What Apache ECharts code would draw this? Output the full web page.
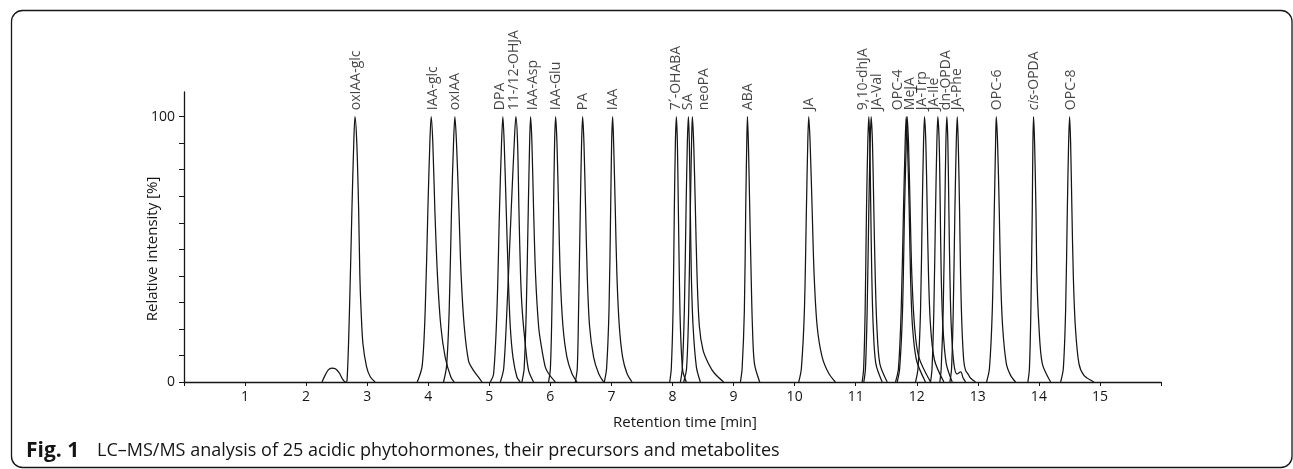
<!DOCTYPE html>
<html><head><meta charset="utf-8">
<script src="https://cdn.jsdelivr.net/npm/echarts@6/dist/echarts.min.js"></script>
<style>html,body{margin:0;padding:0;background:#fff}#c{width:1293px;height:469px}</style>
</head><body><div id="c"></div>
<script>
// ---- data (retention time [min], relative intensity [%]) ----
const compounds = ['oxIAA-glc','IAA-glc','oxIAA','DPA','11-/12-OHJA','IAA-Asp','IAA-Glu','PA','IAA','7´-OHABA','SA','neoPA','ABA','JA','9,10-dhJA','JA-Val','OPC-4','MeJA','JA-Trp','JA-Ile','dn-OPDA','JA-Phe','OPC-6','cis-OPDA','OPC-8'];
const oxIAA_glc = [[2.26,0],[2.31,2.5],[2.36,4.5],[2.42,5.2],[2.48,5.0],[2.54,3.5],[2.60,1.0],[2.64,0],[2.67,0.5],[2.71,27],[2.75,65],[2.78,90],[2.80,100],[2.83,90],[2.86,65],[2.88,40],[2.90,27],[2.93,14.5],[2.99,5.7],[3.05,2],[3.13,0]];
const IAA_glc = [[3.82,0],[3.90,6],[3.95,27],[3.994,65],[4.026,90],[4.048,100],[4.075,90],[4.108,65],[4.151,40],[4.206,21],[4.277,9.4],[4.37,1.9],[4.425,0]];
const oxIAA = [[4.25,0],[4.30,6],[4.343,27],[4.381,65],[4.414,90],[4.436,100],[4.463,90],[4.502,65],[4.539,40],[4.589,21],[4.66,8],[4.74,4.4],[4.82,1.9],[4.88,0]];
const DPA = [[5.015,0],[5.07,3],[5.125,27],[5.167,65],[5.20,90],[5.222,100],[5.244,90],[5.277,65],[5.31,40],[5.343,21],[5.387,9.4],[5.452,1.9],[5.506,0]];
const OHJA = [[5.18,0],[5.235,5],[5.288,27],[5.359,65],[5.408,90],[5.435,100],[5.463,90],[5.485,65],[5.512,40],[5.539,27],[5.588,14.5],[5.643,4.4],[5.725,0]];
const IAA_Asp = [[5.534,0],[5.57,5],[5.605,27],[5.638,65],[5.66,90],[5.676,100],[5.698,90],[5.725,65],[5.758,40],[5.807,21],[5.845,14.5],[5.916,5.7],[5.97,3.2],[6.08,0]];
const IAA_Glu = [[5.97,0],[6.00,5],[6.025,27],[6.052,65],[6.069,90],[6.086,100],[6.108,90],[6.135,65],[6.162,40],[6.206,21],[6.271,9.4],[6.353,3.2],[6.436,0]];
const PA = [[6.408,0],[6.44,5],[6.462,27],[6.49,65],[6.511,90],[6.528,100],[6.55,90],[6.577,65],[6.604,40],[6.642,21],[6.708,9.4],[6.79,3.2],[6.872,0]];
const IAA = [[6.883,0],[6.92,5],[6.96,27],[6.987,65],[7.003,90],[7.02,100],[7.036,90],[7.063,65],[7.09,40],[7.129,21],[7.183,9.4],[7.255,3.2],[7.337,0]];
const OHABA = [[7.954,0],[7.98,5],[8.009,27],[8.03,65],[8.047,90],[8.063,100],[8.08,90],[8.096,65],[8.112,40],[8.129,21],[8.167,4.4],[8.227,0]];
const SA = [[8.129,0],[8.16,5],[8.194,27],[8.222,65],[8.243,90],[8.26,100],[8.276,90],[8.292,65],[8.309,40],[8.337,21],[8.391,5.7],[8.456,0]];
const neoPA = [[8.183,0],[8.23,5],[8.265,27],[8.292,65],[8.312,90],[8.325,100],[8.347,90],[8.375,65],[8.402,40],[8.44,21],[8.50,12],[8.59,6.9],[8.69,3.2],[8.838,0]];
const ABA = [[9.112,0],[9.14,5],[9.177,27],[9.199,65],[9.216,90],[9.227,100],[9.243,90],[9.265,65],[9.288,40],[9.309,21],[9.342,6.9],[9.428,0]];
const JA = [[10.067,0],[10.11,5],[10.16,27],[10.193,65],[10.215,90],[10.231,100],[10.254,90],[10.287,65],[10.32,40],[10.369,21],[10.451,9.4],[10.56,3.2],[10.668,0]];
const dhJA = [[11.106,0],[11.13,5],[11.155,27],[11.177,65],[11.198,90],[11.215,100],[11.231,90],[11.247,65],[11.264,40],[11.287,21],[11.33,6.9],[11.434,0]];
const JA_Val = [[11.133,0],[11.16,5],[11.188,27],[11.215,65],[11.237,90],[11.253,100],[11.275,90],[11.297,65],[11.32,40],[11.347,21],[11.395,6.9],[11.516,0]];
const OPC_4 = [[11.652,0],[11.70,5],[11.745,27],[11.783,65],[11.81,90],[11.827,100],[11.848,90],[11.876,65],[11.898,40],[11.93,21],[11.996,8.2],[12.143,0]];
const MeJA = [[11.68,0],[11.72,5],[11.767,27],[11.80,65],[11.828,90],[11.843,100],[11.865,90],[11.892,65],[11.92,40],[11.964,21],[12.034,9.4],[12.226,0]];
const JA_Trp = [[11.98,0],[12.02,5],[12.062,27],[12.09,65],[12.111,90],[12.127,100],[12.149,90],[12.171,65],[12.193,40],[12.226,21],[12.291,8.2],[12.444,0]];
const JA_Ile = [[12.226,0],[12.25,5],[12.28,27],[12.308,65],[12.329,90],[12.345,100],[12.368,90],[12.385,65],[12.401,40],[12.428,21],[12.483,6.9],[12.581,0]];
const dn_OPDA = [[12.378,0],[12.40,5],[12.433,27],[12.46,65],[12.477,90],[12.493,100],[12.51,90],[12.526,65],[12.543,40],[12.565,21],[12.608,6.9],[12.66,3],[12.72,3.8],[12.76,1.5],[12.80,0]];
const JA_Phe = [[12.543,0],[12.57,5],[12.598,27],[12.625,65],[12.647,90],[12.663,100],[12.68,90],[12.701,65],[12.718,40],[12.74,21],[12.77,8],[12.80,4.4],[12.84,3],[12.88,1.5],[12.963,0]];
const OPC_6 = [[13.143,0],[13.19,5],[13.237,27],[13.27,65],[13.291,90],[13.302,100],[13.324,90],[13.351,65],[13.373,40],[13.406,21],[13.467,6.9],[13.537,2.5],[13.619,0]];
const cis_OPDA = [[13.82,0],[13.845,5],[13.869,27],[13.892,65],[13.902,90],[13.913,100],[13.93,90],[13.952,65],[13.968,40],[14.001,21],[14.056,6.9],[14.192,0]];
const OPC_8 = [[14.356,0],[14.40,5],[14.438,27],[14.466,65],[14.487,90],[14.503,100],[14.52,90],[14.541,65],[14.564,40],[14.597,21],[14.656,6.9],[14.738,2.5],[14.902,0]];
const traces = [oxIAA_glc,IAA_glc,oxIAA,DPA,OHJA,IAA_Asp,IAA_Glu,PA,IAA,OHABA,SA,neoPA,ABA,JA,dhJA,JA_Val,OPC_4,MeJA,JA_Trp,JA_Ile,dn_OPDA,JA_Phe,OPC_6,cis_OPDA,OPC_8];
const xTicks = [0,1,2,3,4,5,6,7,8,9,10,11,12,13,14,15,16];
const yTicks = [0,10,20,30,40,50,60,70,80,90,100];
const yLabels = [0,100];

// ---- styles ----
const INK = '#151515';
const FONT = 'Open Sans';
const labelShiftPx = [1,2,0,-3,-2,2,0,0,0,0,0,12,1,0,-6,6,-8,3,-2,-4,-1,0,1,0,1];

const chart = echarts.init(document.getElementById('c'), null, {renderer:'canvas'});

const lineSeries = traces.map((d, i) => ({
  type: 'line', name: compounds[i], data: d, showSymbol: false, symbol: 'none',
  smooth: 0.3, clip: true, silent: true,
  lineStyle: {color: INK, width: 1.25}, z: 3
}));

const labelData = traces.map((d, i) => {
  let apex = d[0];
  d.forEach(p => { if (p[1] > apex[1]) apex = p; });
  const name = compounds[i];
  const text = name.startsWith('cis-') ? '{it|cis}-' + name.slice(4) : name;
  return {value: [apex[0], apex[1]], name: name, label: {formatter: text}};
});

chart.setOption({
  animation: false,
  backgroundColor: '#fff',
  grid: {left: 184, right: 132, top: 92, bottom: 87, containLabel: false},
  xAxis: {
    type: 'value', min: 0, max: 16, interval: 1,
    axisLine: {show: true, onZero: false, lineStyle: {color: INK, width: 1.3}},
    axisTick: {show: true, length: 4, customValues: xTicks, lineStyle: {color: INK, width: 1}},
    axisLabel: {customValues: xTicks.slice(1, 16), color: INK, fontSize: 14, fontFamily: FONT, margin: 8},
    splitLine: {show: false}
  },
  yAxis: {
    type: 'value', min: 0, max: 109.3,
    axisLine: {show: true, onZero: false, lineStyle: {color: INK, width: 1.3}},
    axisTick: {show: true, length: 5, customValues: yTicks, lineStyle: {color: INK, width: 1}},
    axisLabel: {customValues: yLabels, color: INK, fontSize: 14, fontFamily: FONT, margin: 9},
    splitLine: {show: false}
  },
  series: lineSeries.concat([{
    type: 'scatter', data: labelData, symbolSize: 1, silent: true,
    itemStyle: {color: 'rgba(0,0,0,0)'}, z: 5,
    label: {show: true, position: 'top', distance: 6, rotate: 90, align: 'left', verticalAlign: 'middle',
      color: INK, fontSize: 14, fontFamily: FONT,
      rich: {it: {fontStyle: 'italic', fontSize: 14, fontFamily: FONT, color: INK}}},
    labelLayout: function (params) { return {dy: labelShiftPx[params.dataIndex], hideOverlap: false}; }
  }]),
  graphic: [
    {type: 'rect', shape: {x: 11.5, y: 10.5, width: 1280.5, height: 457, r: 11},
     style: {fill: 'none', stroke: INK, lineWidth: 1.3}, silent: true},
    {type: 'text', x: 153, y: 249, rotation: Math.PI / 2,
     style: {text: 'Relative intensity [%]', fill: INK, fontSize: 15, fontFamily: FONT, align: 'center', verticalAlign: 'middle'}},
    {type: 'text', x: 685, y: 423,
     style: {text: 'Retention time [min]', fill: INK, fontSize: 15, fontFamily: FONT, align: 'center', verticalAlign: 'middle'}},
    {type: 'text', x: 26, y: 451,
     style: {text: 'Fig. 1', fill: INK, fontSize: 21, fontWeight: 'bold', fontFamily: FONT, align: 'left', verticalAlign: 'middle'}},
    {type: 'text', x: 97, y: 451,
     style: {text: 'LC–MS/MS analysis of 25 acidic phytohormones, their precursors and metabolites', fill: INK, fontSize: 18, fontFamily: FONT, align: 'left', verticalAlign: 'middle'}}
  ]
});
</script>
</body></html>
